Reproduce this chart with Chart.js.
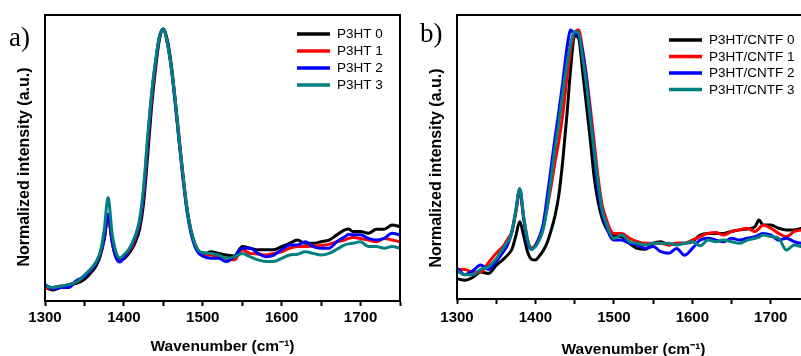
<!DOCTYPE html>
<html lang="en">
<head>
<meta charset="UTF-8" />
<title>Raman P3HT</title>
<script src="https://cdn.jsdelivr.net/npm/chart.js"></script>
<style>
  html, body { margin: 0; padding: 0; background: #fff; overflow: hidden; }
  body { width: 801px; height: 356px; position: relative; }
  canvas { position: absolute; top: 0; }
  #chartA { left: 0; }
  #chartB { left: 404px; }
</style>
</head>
<body>
<canvas id="chartA" width="404" height="356"></canvas>
<canvas id="chartB" width="420" height="356"></canvas>
<script>
  // shared wavenumber grid (cm-1), finer around the peaks
  const wavenumber = [1300,1310,1320,1330,1340,1350,1360,1365,1370,1375,1380,1385,1390,1395,1400,1405,1410,1415,1420,1425,1430,1435,1440,1445,1450,1455,1460,1465,1470,1475,1480,1485,1490,1495,1500,1510,1520,1530,1540,1550,1560,1570,1580,1590,1600,1610,1620,1630,1640,1650,1660,1670,1680,1685,1690,1700,1710,1720,1730,1740,1750];

  // panel a)
  const namesA = ['P3HT 0', 'P3HT 1', 'P3HT 2', 'P3HT 3'];
  const p3ht0 = [0.05,0.04,0.05,0.06,0.065,0.08,0.11,0.13,0.165,0.225,0.315,0.22,0.165,0.15,0.155,0.17,0.19,0.22,0.265,0.36,0.53,0.71,0.85,0.96,1.0,0.96,0.87,0.74,0.6,0.46,0.34,0.26,0.21,0.18,0.17,0.181,0.175,0.169,0.165,0.2,0.194,0.188,0.188,0.188,0.2,0.212,0.224,0.212,0.212,0.218,0.224,0.243,0.261,0.265,0.255,0.255,0.249,0.264,0.264,0.279,0.273];
  const p3ht1 = [0.045,0.05,0.055,0.06,0.07,0.09,0.12,0.14,0.175,0.23,0.315,0.22,0.16,0.145,0.16,0.178,0.2,0.235,0.285,0.39,0.57,0.74,0.87,0.97,1.0,0.95,0.86,0.73,0.59,0.45,0.335,0.255,0.205,0.178,0.168,0.169,0.163,0.157,0.151,0.188,0.175,0.173,0.169,0.175,0.181,0.194,0.2,0.2,0.202,0.204,0.208,0.218,0.224,0.23,0.233,0.23,0.224,0.218,0.23,0.224,0.218];
  const p3ht2 = [0.06,0.045,0.05,0.05,0.075,0.09,0.12,0.14,0.175,0.23,0.32,0.22,0.16,0.143,0.16,0.18,0.205,0.24,0.29,0.4,0.58,0.75,0.875,0.97,1.0,0.95,0.86,0.73,0.585,0.45,0.33,0.25,0.2,0.175,0.165,0.157,0.157,0.145,0.163,0.194,0.194,0.175,0.163,0.169,0.188,0.206,0.206,0.218,0.2,0.194,0.194,0.218,0.236,0.245,0.243,0.243,0.23,0.224,0.23,0.249,0.243];
  const p3ht3 = [0.055,0.05,0.055,0.06,0.07,0.095,0.125,0.145,0.18,0.26,0.38,0.25,0.18,0.158,0.17,0.185,0.21,0.245,0.3,0.42,0.6,0.76,0.88,0.97,1.0,0.95,0.86,0.74,0.59,0.46,0.34,0.26,0.21,0.185,0.178,0.175,0.169,0.157,0.163,0.175,0.163,0.151,0.145,0.145,0.157,0.169,0.172,0.181,0.175,0.169,0.175,0.19,0.206,0.21,0.212,0.218,0.2,0.2,0.194,0.2,0.194];

  // panel b)
  const namesB = ['P3HT/CNTF 0', 'P3HT/CNTF 1', 'P3HT/CNTF 2', 'P3HT/CNTF 3'];
  const cntf0 = [0.075,0.07,0.08,0.1,0.095,0.125,0.15,0.165,0.185,0.235,0.287,0.235,0.175,0.148,0.145,0.16,0.18,0.21,0.255,0.31,0.39,0.52,0.68,0.86,0.98,0.97,0.85,0.72,0.59,0.45,0.36,0.3,0.265,0.245,0.235,0.232,0.207,0.188,0.185,0.207,0.213,0.201,0.207,0.207,0.213,0.238,0.244,0.244,0.244,0.251,0.257,0.26,0.269,0.294,0.275,0.275,0.263,0.257,0.257,0.263,0.26];
  const cntf1 = [0.11,0.11,0.1,0.1,0.135,0.17,0.2,0.225,0.25,0.32,0.4,0.3,0.22,0.19,0.2,0.23,0.27,0.34,0.42,0.51,0.59,0.69,0.82,0.93,0.99,1.0,0.93,0.83,0.71,0.58,0.45,0.35,0.3,0.26,0.244,0.244,0.226,0.213,0.207,0.207,0.207,0.201,0.207,0.207,0.219,0.232,0.244,0.247,0.238,0.251,0.257,0.263,0.251,0.262,0.275,0.263,0.244,0.232,0.251,0.257,0.25];
  const cntf2 = [0.115,0.09,0.105,0.126,0.11,0.14,0.18,0.205,0.25,0.33,0.41,0.3,0.21,0.185,0.2,0.23,0.28,0.38,0.49,0.6,0.7,0.81,0.93,1.0,0.985,0.98,0.92,0.82,0.68,0.54,0.4,0.32,0.275,0.235,0.219,0.219,0.207,0.201,0.188,0.195,0.176,0.17,0.188,0.163,0.188,0.219,0.226,0.219,0.213,0.226,0.219,0.226,0.232,0.238,0.244,0.238,0.219,0.226,0.213,0.207,0.207];
  const cntf3 = [0.105,0.09,0.09,0.11,0.12,0.15,0.195,0.215,0.25,0.33,0.41,0.31,0.22,0.185,0.195,0.22,0.26,0.34,0.45,0.56,0.66,0.77,0.87,0.95,0.995,0.99,0.9,0.8,0.67,0.55,0.43,0.33,0.285,0.245,0.225,0.238,0.213,0.207,0.201,0.207,0.207,0.207,0.201,0.207,0.213,0.198,0.219,0.213,0.219,0.213,0.207,0.219,0.226,0.23,0.238,0.232,0.226,0.182,0.201,0.195,0.2];

  const colors = ['#000000', '#ff0000', '#0000ff', '#008080'];
  const FONT = 'Liberation Sans';

  // frame, panel letter, y title and legend
  const panelDeco = {
    id: 'panelDeco',
    afterDraw(chart, args, o) {
      const { ctx, chartArea: a } = chart;
      ctx.save();
      ctx.strokeStyle = '#000';
      ctx.lineWidth = 2;
      ctx.strokeRect(a.left, a.top, a.right - a.left, a.bottom - a.top);

      ctx.fillStyle = '#000';
      ctx.font = '27px "Liberation Serif"';
      ctx.textAlign = 'left';
      ctx.textBaseline = 'alphabetic';
      ctx.fillText(o.letter, o.letterX, o.letterY);

      ctx.save();
      ctx.font = 'bold 16px "' + FONT + '"';
      ctx.translate(o.yTitleX, o.yTitleY);
      ctx.rotate(-Math.PI / 2);
      ctx.textAlign = 'center';
      ctx.textBaseline = 'middle';
      ctx.fillText('Normalized intensity (a.u.)', 0, 0);
      ctx.restore();

      ctx.font = '13.5px "' + FONT + '"';
      ctx.textBaseline = 'middle';
      chart.data.datasets.forEach((ds, i) => {
        const y = o.legendY + i * o.legendRow;
        ctx.strokeStyle = ds.borderColor;
        ctx.lineWidth = 3.5;
        ctx.beginPath();
        ctx.moveTo(o.legendX, y);
        ctx.lineTo(o.legendX + 33, y);
        ctx.stroke();
        ctx.fillStyle = '#000';
        ctx.fillText(ds.label, o.legendX + 40, y + 0.5);
      });
      ctx.restore();
    }
  };

  function makeChart(id, series, names, cfg) {
    const datasets = series.map((s, i) => ({
      label: names[i],
      data: wavenumber.map((w, j) => ({ x: w, y: s[j] })),
      borderColor: colors[i],
      borderWidth: 3,
      pointRadius: 0,
      fill: false,
      order: series.length - 1 - i, // last series on top
      cubicInterpolationMode: 'monotone'
    }));
    return new Chart(document.getElementById(id), {
      type: 'line',
      data: { datasets },
      plugins: [panelDeco],
      options: {
        responsive: false,
        animation: false,
        layout: { padding: { top: 15, right: cfg.padRight, left: 0, bottom: 0 } },
        plugins: {
          legend: { display: false },
          tooltip: { enabled: false },
          panelDeco: cfg.deco
        },
        scales: {
          x: {
            type: 'linear',
            min: 1300,
            max: 1750,
            ticks: {
              stepSize: 50,
              autoSkip: false,
              maxRotation: 0,
              padding: cfg.tickPad,
              color: '#000',
              font: { family: FONT, size: 15, weight: 'bold' },
              callback: v => (v % 100 === 0 ? v : '')
            },
            grid: { drawOnChartArea: false, color: '#000', tickLength: 5, tickWidth: 2 },
            border: { color: '#000', width: 2 },
            title: {
              display: true,
              text: 'Wavenumber (cm⁻¹)',
              color: '#000',
              font: { family: FONT, size: 15.5, weight: 'bold', lineHeight: 1.2 },
              padding: { top: 0, bottom: cfg.titlePad }
            },
            afterFit: s => { s.height = cfg.xHeight; }
          },
          y: {
            min: 0,
            max: cfg.yMax,
            ticks: { display: false },
            grid: { display: false },
            border: { color: '#000', width: 2 },
            afterFit: s => { s.width = cfg.yWidth; }
          }
        }
      }
    });
  }

  makeChart('chartA', [p3ht0, p3ht1, p3ht2, p3ht3], namesA, {
    padRight: 4, xHeight: 55, yWidth: 45, yMax: 1.051, tickPad: 3, titlePad: 0,
    deco: { letter: 'a)', letterX: 9, letterY: 46, yTitleX: 25, yTitleY: 167,
            legendX: 297, legendY: 34, legendRow: 17 }
  });

  makeChart('chartB', [cntf0, cntf1, cntf2, cntf3], namesB, {
    padRight: 14, xHeight: 57, yWidth: 53, yMax: 1.056, tickPad: 5, titlePad: -3,
    deco: { letter: 'b)', letterX: 16, letterY: 42, yTitleX: 32.5, yTitleY: 168,
            legendX: 265, legendY: 40, legendRow: 16.5 }
  });
</script>
</body>
</html>
